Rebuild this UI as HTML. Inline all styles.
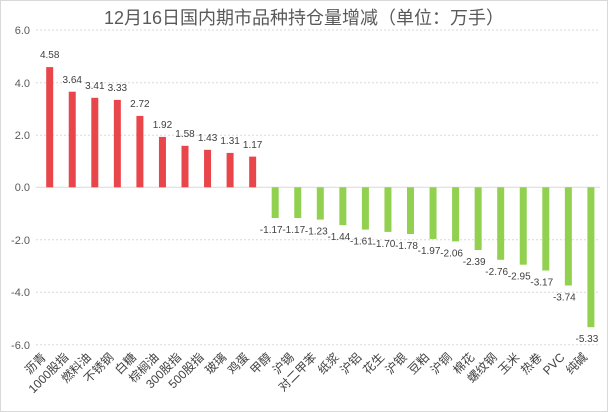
<!DOCTYPE html>
<html><head><meta charset="utf-8"><style>
html,body{margin:0;padding:0;background:#fff}
svg{display:block;font-family:"Liberation Sans","Noto Sans CJK SC",sans-serif}
</style></head><body>
<svg width="608" height="412" viewBox="0 0 608 412" xmlns="http://www.w3.org/2000/svg">
<rect x="0.5" y="0.5" width="607" height="411" fill="#fff" stroke="#d9d9d9"/>
<text x="304" y="24" text-anchor="middle" font-size="18" fill="#595959">12月16日国内期市品种持仓量增减（单位：万手）</text>
<g stroke="#d9d9d9" stroke-dasharray="2,2" stroke-width="1">
<line x1="36" x2="600" y1="30" y2="30"/>
<line x1="36" x2="600" y1="82.8" y2="82.8"/>
<line x1="36" x2="600" y1="135.3" y2="135.3"/>
<line x1="36" x2="600" y1="239.8" y2="239.8"/>
<line x1="36" x2="600" y1="292.3" y2="292.3"/>
<line x1="36" x2="600" y1="344.8" y2="344.8"/>
</g>
<line x1="36" x2="600" y1="187.3" y2="187.3" stroke="#d9d9d9"/>
<g font-size="11" fill="#595959" text-anchor="end">
<text x="30" y="34">6.0</text><text x="30" y="87">4.0</text><text x="30" y="139">2.0</text>
<text x="30" y="191">0.0</text><text x="30" y="244">-2.0</text><text x="30" y="296">-4.0</text><text x="30" y="349">-6.0</text>
</g>
<g fill="#e8464b">
<rect x="46.2" y="67.1" width="7" height="120.2"/>
<rect x="68.75" y="91.7" width="7" height="95.6"/>
<rect x="91.3" y="97.8" width="7" height="89.5"/>
<rect x="113.85" y="99.9" width="7" height="87.4"/>
<rect x="136.4" y="115.9" width="7" height="71.4"/>
<rect x="158.95" y="136.9" width="7" height="50.4"/>
<rect x="181.5" y="145.8" width="7" height="41.5"/>
<rect x="204.05" y="149.8" width="7" height="37.5"/>
<rect x="226.6" y="152.9" width="7" height="34.4"/>
<rect x="249.15" y="156.6" width="7" height="30.7"/>
</g>
<g fill="#92d050">
<rect x="271.7" y="187.3" width="7" height="30.7"/>
<rect x="294.25" y="187.3" width="7" height="30.7"/>
<rect x="316.8" y="187.3" width="7" height="32.3"/>
<rect x="339.35" y="187.3" width="7" height="37.8"/>
<rect x="361.9" y="187.3" width="7" height="42.3"/>
<rect x="384.45" y="187.3" width="7" height="44.6"/>
<rect x="407" y="187.3" width="7" height="46.7"/>
<rect x="429.55" y="187.3" width="7" height="51.7"/>
<rect x="452.1" y="187.3" width="7" height="54.1"/>
<rect x="474.65" y="187.3" width="7" height="62.7"/>
<rect x="497.2" y="187.3" width="7" height="72.5"/>
<rect x="519.75" y="187.3" width="7" height="77.4"/>
<rect x="542.3" y="187.3" width="7" height="83.2"/>
<rect x="564.85" y="187.3" width="7" height="98.2"/>
<rect x="587.4" y="187.3" width="7" height="139.9"/>
</g>
<g font-size="10" fill="#404040" text-anchor="middle">
<text x="49.7" y="58">4.58</text>
<text x="72.25" y="83">3.64</text>
<text x="94.8" y="89">3.41</text>
<text x="117.35" y="91">3.33</text>
<text x="139.9" y="107">2.72</text>
<text x="162.45" y="128">1.92</text>
<text x="185" y="137">1.58</text>
<text x="207.55" y="141">1.43</text>
<text x="230.1" y="144">1.31</text>
<text x="252.65" y="148">1.17</text>
<text x="271.2" y="233">-1.17</text>
<text x="293.75" y="233">-1.17</text>
<text x="316.3" y="234.6">-1.23</text>
<text x="338.85" y="240.1">-1.44</text>
<text x="361.4" y="244.6">-1.61</text>
<text x="383.95" y="246.9">-1.70</text>
<text x="406.5" y="249">-1.78</text>
<text x="429.05" y="254">-1.97</text>
<text x="451.6" y="256.4">-2.06</text>
<text x="474.15" y="265">-2.39</text>
<text x="496.7" y="274.8">-2.76</text>
<text x="519.25" y="279.7">-2.95</text>
<text x="541.8" y="285.5">-3.17</text>
<text x="564.35" y="300.5">-3.74</text>
<text x="586.9" y="342.2">-5.33</text>
</g>
<g font-size="12" fill="#404040" text-anchor="end">
<text transform="translate(46.7,358) rotate(-45)">沥青</text>
<text transform="translate(69.25,358) rotate(-45)">1000股指</text>
<text transform="translate(91.8,358) rotate(-45)">燃料油</text>
<text transform="translate(114.35,358) rotate(-45)">不锈钢</text>
<text transform="translate(136.9,358) rotate(-45)">白糖</text>
<text transform="translate(159.45,358) rotate(-45)">棕榈油</text>
<text transform="translate(182,358) rotate(-45)">300股指</text>
<text transform="translate(204.55,358) rotate(-45)">500股指</text>
<text transform="translate(227.1,358) rotate(-45)">玻璃</text>
<text transform="translate(249.65,358) rotate(-45)">鸡蛋</text>
<text transform="translate(272.2,358) rotate(-45)">甲醇</text>
<text transform="translate(294.75,358) rotate(-45)">沪锡</text>
<text transform="translate(317.3,358) rotate(-45)">对二甲苯</text>
<text transform="translate(339.85,358) rotate(-45)">纸浆</text>
<text transform="translate(362.4,358) rotate(-45)">沪铝</text>
<text transform="translate(384.95,358) rotate(-45)">花生</text>
<text transform="translate(407.5,358) rotate(-45)">沪银</text>
<text transform="translate(430.05,358) rotate(-45)">豆粕</text>
<text transform="translate(452.6,358) rotate(-45)">沪铜</text>
<text transform="translate(475.15,358) rotate(-45)">棉花</text>
<text transform="translate(497.7,358) rotate(-45)">螺纹钢</text>
<text transform="translate(520.25,358) rotate(-45)">玉米</text>
<text transform="translate(542.8,358) rotate(-45)">热卷</text>
<text transform="translate(565.35,358) rotate(-45)">PVC</text>
<text transform="translate(587.9,358) rotate(-45)">纯碱</text>
</g>
</svg>
</body></html>
